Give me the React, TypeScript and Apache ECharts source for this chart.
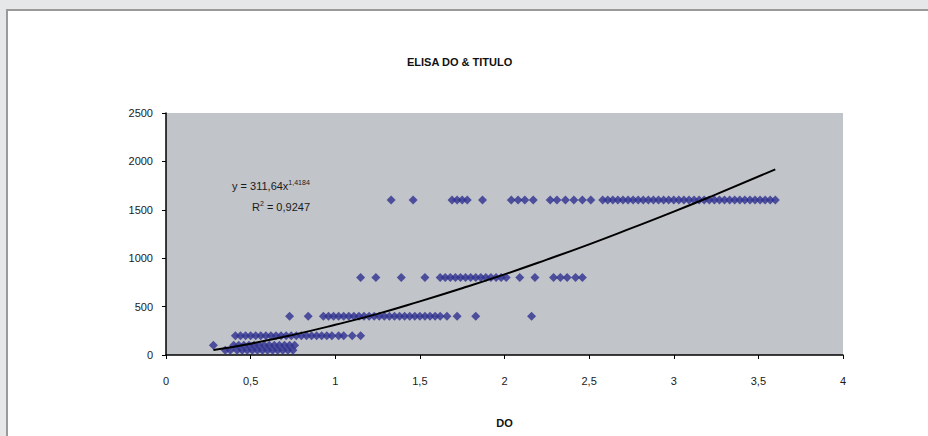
import React, { useEffect, useRef } from "react";
import * as echarts from "echarts";

// DO values (x) observed at each titer level (y)
const titerLevels = [50, 100, 200, 400, 800, 1600];
const row50 = [0.35, 0.38, 0.42, 0.45, 0.48, 0.51, 0.54, 0.57, 0.6, 0.63, 0.66, 0.69, 0.72, 0.75];
const row100 = [0.28, 0.4, 0.43, 0.46, 0.49, 0.52, 0.55, 0.58, 0.61, 0.64, 0.67, 0.7, 0.73, 0.76];
const row200 = [0.41, 0.44, 0.47, 0.5, 0.53, 0.56, 0.59, 0.62, 0.65, 0.68, 0.71, 0.74, 0.77, 0.8, 0.83, 0.86, 0.89, 0.92, 0.95, 0.98, 1.02, 1.05, 1.1, 1.15];
const row400 = [0.73, 0.84, 0.93, 0.96, 0.99, 1.02, 1.05, 1.08, 1.11, 1.14, 1.17, 1.2, 1.23, 1.26, 1.29, 1.32, 1.35, 1.38, 1.41, 1.44, 1.47, 1.5, 1.53, 1.56, 1.59, 1.62, 1.66, 1.72, 1.83, 2.16];
const row800 = [1.15, 1.24, 1.39, 1.53, 1.62, 1.65, 1.68, 1.71, 1.74, 1.77, 1.8, 1.83, 1.86, 1.89, 1.92, 1.95, 1.98, 2.01, 2.09, 2.18, 2.29, 2.33, 2.37, 2.42, 2.46];
const row1600 = [1.33, 1.46, 1.69, 1.72, 1.75, 1.78, 1.87, 2.04, 2.08, 2.12, 2.17, 2.27, 2.31, 2.36, 2.41, 2.46, 2.51, 2.58, 2.61, 2.64, 2.67, 2.7, 2.73, 2.76, 2.79, 2.82, 2.85, 2.88, 2.91, 2.94, 2.97, 3.0, 3.03, 3.06, 3.09, 3.12, 3.15, 3.18, 3.21, 3.24, 3.27, 3.3, 3.33, 3.36, 3.39, 3.42, 3.45, 3.48, 3.51, 3.54, 3.57, 3.6];
const rows = [row50, row100, row200, row400, row800, row1600];

// Power trendline
const trendX = [0.28, 0.5, 0.75, 1, 1.25, 1.5, 1.75, 2, 2.25, 2.5, 2.75, 3, 3.25, 3.6];
const trendY = [51, 117, 208, 312, 425, 554, 690, 833, 985, 1143, 1310, 1481, 1660, 1917];

const chartTitle = "ELISA DO & TITULO";
const xAxisName = "DO";

export default function App() {
  const ref = useRef<HTMLDivElement>(null);
  useEffect(() => {
    document.body.style.margin = "0";
    document.body.style.overflow = "hidden";
    const chart = echarts.init(ref.current!, null, { renderer: "svg" });
    const scatterData: number[][] = [];
    rows.forEach((xs, i) => xs.forEach((x) => scatterData.push([x, titerLevels[i]])));
    const trendData = trendX.map((x, i) => [x, trendY[i]]);
    const font = "Liberation Sans, Arial, sans-serif";
    chart.setOption({
      animation: false,
      backgroundColor: "transparent",
      textStyle: { fontFamily: font },
      graphic: [
        {
          type: "text",
          x: 232,
          y: 179,
          z: 10,
          style: {
            text: "y = 311,64x{sup|1,4184}",
            fontFamily: font,
            fontSize: 11,
            fill: "#1a1a1a",
            rich: { sup: { fontSize: 7, verticalAlign: "top", padding: [0, 0, 6, 0], fill: "#1a1a1a", fontFamily: font } },
          },
        },
        {
          type: "text",
          x: 252,
          y: 200,
          z: 10,
          style: {
            text: "R{sup|2} = 0,9247",
            fontFamily: font,
            fontSize: 11,
            fill: "#1a1a1a",
            rich: { sup: { fontSize: 7, padding: [0, 0, 6, 0], fill: "#1a1a1a", fontFamily: font } },
          },
        },
      ],
      title: {
        text: chartTitle,
        left: 402,
        top: 51,
        textStyle: { fontFamily: font, fontSize: 11, fontWeight: "bold", color: "#111" },
      },
      grid: {
        left: 166,
        right: 85,
        top: 113,
        bottom: 81,
        show: true,
        backgroundColor: "#c1c4c9",
        borderWidth: 0,
      },
      xAxis: {
        type: "value",
        min: 0,
        max: 4,
        interval: 0.5,
        name: xAxisName,
        nameLocation: "middle",
        nameGap: 62,
        nameTextStyle: { fontFamily: font, fontSize: 11, fontWeight: "bold", color: "#111" },
        axisLine: { show: true, onZero: false, lineStyle: { color: "#000", width: 1.5 } },
        axisTick: { show: true, length: 4, lineStyle: { color: "#000" } },
        splitLine: { show: false },
        axisLabel: {
          margin: 20,
          fontSize: 11,
          color: "#1a1a1a",
          fontFamily: font,
          formatter: (v: number) => String(v).replace(".", ","),
        },
      },
      yAxis: {
        type: "value",
        min: 0,
        max: 2500,
        interval: 500,
        axisLine: { show: true, lineStyle: { color: "#000", width: 1.5 } },
        axisTick: { show: true, length: 4, lineStyle: { color: "#000" } },
        splitLine: { show: false },
        axisLabel: {
          margin: 13,
          fontSize: 11,
          color: "#1a1a1a",
          fontFamily: font,
          formatter: (v: number) => String(v),
        },
      },
      series: [
        {
          type: "scatter",
          data: scatterData,
          symbol: "diamond",
          symbolSize: 9,
          itemStyle: { color: "#2e3190" },
          z: 2,
        },
        {
          type: "line",
          data: trendData,
          smooth: true,
          showSymbol: false,
          lineStyle: { color: "#000", width: 2 },
          z: 3,
        },
      ],
    });
    return () => chart.dispose();
  }, []);
  return (
    <div style={{ position: "fixed", left: 0, top: 0, width: 928, height: 436, background: "#e6e7e9", overflow: "hidden" }}>
      <div
        style={{
          position: "absolute",
          left: 6,
          top: 9,
          width: 960,
          height: 480,
          background: "#ffffff",
          border: "2px solid #9a9a9a",
        }}
      />
      <div ref={ref} style={{ position: "absolute", left: 0, top: 0, width: 928, height: 436 }} />
    </div>
  );
}
